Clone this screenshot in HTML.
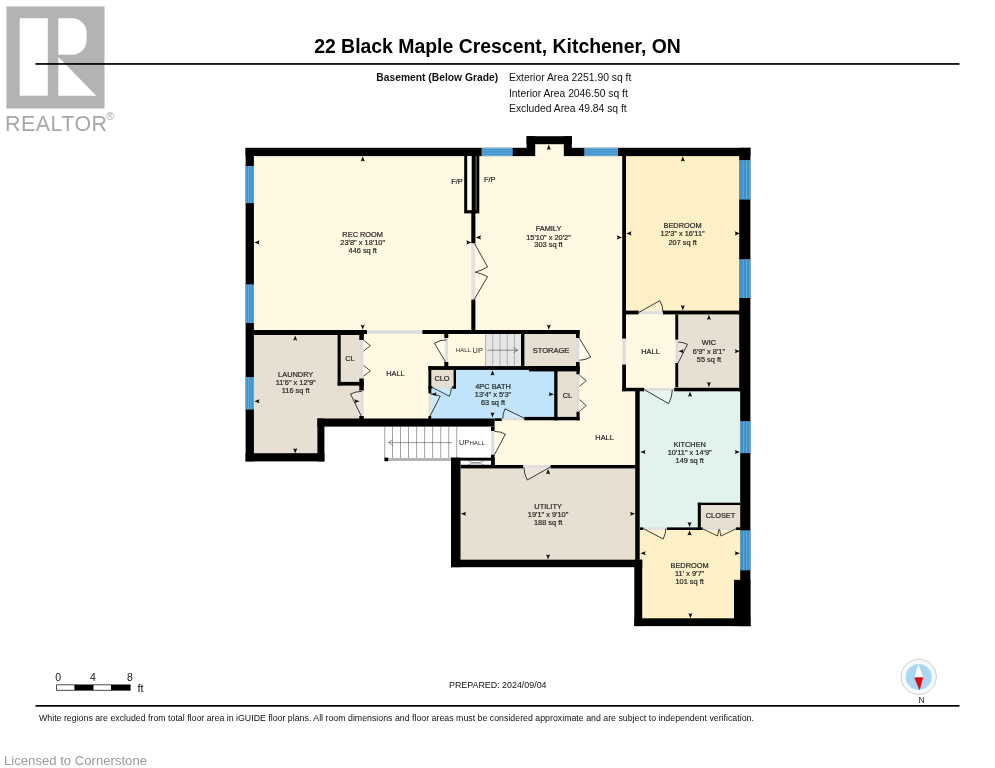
<!DOCTYPE html>
<html lang="en">
<head>
<meta charset="utf-8">
<title>22 Black Maple Crescent, Kitchener, ON - Basement Floor Plan</title>
<style>
html,body{margin:0;padding:0;background:#fff;}
body{width:995px;height:768px;overflow:hidden;position:relative;font-family:"Liberation Sans",Arial,sans-serif;}
svg{position:absolute;left:0;top:0;display:block;will-change:transform;}
svg text{font-family:"Liberation Sans",Arial,sans-serif;}
</style>
</head>
<body>
<svg width="995" height="768" viewBox="0 0 995 768">
<rect x="0" y="0" width="995" height="768" fill="#ffffff"/>

<g id="realtor-logo">
<rect x="6.40" y="6.40" width="98.10" height="102.10" fill="#b3b3b3"/>
<rect x="19.70" y="18.20" width="28.10" height="77.50" fill="#ffffff"/>
<path d="M58.3,18.2 H72 A14.6,14.6 0 0 1 86.6,32.8 V40.1 A14.6,14.6 0 0 1 72,54.7 H58.3 Z" fill="#ffffff"/>
<polygon points="58.30,56.90 96.30,95.70 58.30,95.70" fill="#ffffff"/>
<text x="5.00" y="131.40" font-size="21.4" text-anchor="start" font-weight="normal" fill="#a8a8a8" letter-spacing="0.5">REALTOR</text>
<text x="106.30" y="119.60" font-size="10.5" text-anchor="start" font-weight="normal" fill="#a6a6a6">®</text>
</g>
<rect x="35.50" y="63.10" width="924.00" height="1.70" fill="#000"/>
<text x="497.50" y="53.20" font-size="19.42" text-anchor="middle" font-weight="bold" fill="#000">22 Black Maple Crescent, Kitchener, ON</text>
<text x="498.20" y="81.00" font-size="10.3" text-anchor="end" font-weight="bold" fill="#111">Basement (Below Grade)</text>
<text x="509.00" y="81.00" font-size="10.33" text-anchor="start" font-weight="normal" fill="#111">Exterior Area 2251.90 sq ft</text>
<text x="509.00" y="96.70" font-size="10.33" text-anchor="start" font-weight="normal" fill="#111">Interior Area 2046.50 sq ft</text>
<text x="509.00" y="112.30" font-size="10.33" text-anchor="start" font-weight="normal" fill="#111">Excluded Area 49.84 sq ft</text>
<g id="plan">
<rect x="250.00" y="152.00" width="223.00" height="181.00" fill="#fff8e2"/>
<rect x="473.00" y="152.00" width="151.00" height="315.00" fill="#fff8e2"/>
<rect x="535.00" y="144.00" width="29.00" height="13.00" fill="#fff8e2"/>
<rect x="493.00" y="420.00" width="145.00" height="47.00" fill="#fff8e2"/>
<rect x="622.00" y="389.00" width="16.00" height="78.00" fill="#fff8e2"/>
<rect x="361.00" y="332.00" width="85.00" height="34.00" fill="#fff8e2"/>
<rect x="361.00" y="365.00" width="69.00" height="55.00" fill="#fff8e2"/>
<rect x="446.00" y="332.00" width="40.00" height="35.00" fill="#fff8e2"/>
<rect x="485.20" y="334.00" width="35.80" height="32.50" fill="#e6e6e6"/>
<rect x="523.00" y="332.00" width="55.00" height="35.00" fill="#e8dfd3"/>
<rect x="250.00" y="333.00" width="111.00" height="87.00" fill="#e8dfd3"/>
<rect x="250.00" y="418.00" width="70.00" height="38.00" fill="#e8dfd3"/>
<rect x="429.00" y="368.00" width="127.00" height="51.00" fill="#c1e4fa"/>
<rect x="429.30" y="370.00" width="24.30" height="17.00" fill="#e8dfd3"/>
<rect x="556.00" y="368.00" width="22.00" height="51.00" fill="#e8dfd3"/>
<rect x="624.00" y="152.00" width="121.00" height="160.00" fill="#fdefc6"/>
<rect x="624.00" y="312.00" width="53.00" height="77.00" fill="#fff8e2"/>
<rect x="677.00" y="312.00" width="68.00" height="77.00" fill="#e8dfd3"/>
<rect x="638.00" y="389.00" width="107.00" height="140.00" fill="#e2f3ee"/>
<rect x="699.00" y="503.00" width="46.00" height="26.00" fill="#e8dfd3"/>
<rect x="638.00" y="529.00" width="107.00" height="93.00" fill="#fdefc6"/>
<rect x="456.00" y="466.00" width="182.00" height="97.00" fill="#e8dfd3"/>
<rect x="384.50" y="426.00" width="108.50" height="33.00" fill="#ffffff"/>
<rect x="485.25" y="334.00" width="0.70" height="32.30" fill="#9a9a9a"/>
<rect x="492.45" y="334.00" width="0.70" height="32.30" fill="#9a9a9a"/>
<rect x="499.65" y="334.00" width="0.70" height="32.30" fill="#9a9a9a"/>
<rect x="506.85" y="334.00" width="0.70" height="32.30" fill="#9a9a9a"/>
<rect x="514.05" y="334.00" width="0.70" height="32.30" fill="#9a9a9a"/>
<path d="M487.4,350.2 H517.5 M513.6,347.6 L517.7,350.2 L513.6,352.8" fill="none" stroke="#444" stroke-width="0.6"/>
<rect x="384.40" y="426.70" width="0.80" height="31.30" fill="#8c8c8c"/>
<rect x="392.20" y="426.70" width="0.80" height="31.30" fill="#8c8c8c"/>
<rect x="400.20" y="426.70" width="0.80" height="31.30" fill="#8c8c8c"/>
<rect x="408.20" y="426.70" width="0.80" height="31.30" fill="#8c8c8c"/>
<rect x="416.30" y="426.70" width="0.80" height="31.30" fill="#8c8c8c"/>
<rect x="424.30" y="426.70" width="0.80" height="31.30" fill="#8c8c8c"/>
<rect x="432.30" y="426.70" width="0.80" height="31.30" fill="#8c8c8c"/>
<rect x="440.40" y="426.70" width="0.80" height="31.30" fill="#8c8c8c"/>
<rect x="448.40" y="426.70" width="0.80" height="31.30" fill="#8c8c8c"/>
<rect x="456.40" y="426.70" width="0.80" height="31.30" fill="#8c8c8c"/>
<rect x="388.00" y="458.00" width="63.00" height="3.00" fill="#b5b5b5"/>
<rect x="384.40" y="457.60" width="3.80" height="3.60" fill="#000"/>
<path d="M452,442.6 H388.8 M393,439.6 L388.6,442.6 L393,445.6" fill="none" stroke="#555" stroke-width="0.6"/>
<rect x="245.60" y="147.80" width="289.40" height="8.30" fill="#000"/>
<rect x="564.00" y="147.80" width="186.40" height="8.30" fill="#000"/>
<rect x="526.60" y="136.20" width="45.20" height="8.00" fill="#000"/>
<rect x="526.60" y="136.20" width="8.60" height="19.80" fill="#000"/>
<rect x="563.80" y="136.20" width="8.00" height="19.80" fill="#000"/>
<rect x="245.60" y="148.00" width="8.30" height="313.40" fill="#000"/>
<rect x="245.60" y="453.20" width="78.80" height="8.20" fill="#000"/>
<rect x="317.40" y="418.50" width="7.00" height="42.90" fill="#000"/>
<rect x="317.40" y="418.50" width="177.20" height="8.10" fill="#000"/>
<rect x="451.00" y="457.70" width="43.60" height="3.00" fill="#000"/>
<rect x="451.00" y="457.70" width="9.50" height="109.50" fill="#000"/>
<rect x="451.00" y="559.70" width="191.20" height="7.50" fill="#000"/>
<rect x="634.30" y="559.70" width="7.90" height="66.40" fill="#000"/>
<rect x="634.30" y="618.30" width="116.10" height="7.80" fill="#000"/>
<rect x="739.20" y="147.80" width="11.20" height="243.50" fill="#000"/>
<rect x="740.20" y="391.00" width="10.20" height="235.10" fill="#000"/>
<rect x="734.00" y="579.80" width="16.40" height="46.30" fill="#000"/>
<rect x="451.00" y="460.70" width="43.60" height="4.30" fill="#000"/>
<rect x="460.50" y="460.80" width="30.50" height="4.00" fill="#ffffff"/>
<path d="M468,461 Q476,464.6 484,461 M468,464.7 Q476,461.2 484,464.7" stroke="#444" stroke-width="0.5" fill="none"/>
<rect x="471.30" y="156.00" width="4.10" height="87.50" fill="#000"/>
<rect x="471.20" y="243.50" width="4.00" height="56.10" fill="#e3e3e0"/>
<rect x="471.30" y="299.60" width="4.10" height="32.40" fill="#000"/>
<path d="M474.6,243.6 L487.6,267 Q481,270.6 475.4,272.2 Q481,273.4 487.6,276.6 L474,299.8" fill="none" stroke="#000" stroke-width="0.75"/>
<rect x="464.20" y="156.00" width="15.10" height="57.40" fill="#000"/>
<rect x="467.20" y="156.00" width="4.50" height="54.20" fill="#fffdf6"/>
<rect x="475.60" y="156.00" width="1.00" height="54.20" fill="#7d7668"/>
<rect x="253.00" y="330.00" width="110.80" height="5.00" fill="#000"/>
<rect x="363.80" y="330.00" width="3.20" height="4.00" fill="#000"/>
<rect x="367.00" y="330.20" width="55.40" height="3.60" fill="#dcdcdc"/>
<rect x="422.40" y="330.00" width="157.20" height="4.00" fill="#000"/>
<rect x="337.60" y="335.00" width="3.10" height="50.60" fill="#000"/>
<rect x="337.70" y="381.90" width="26.10" height="3.70" fill="#000"/>
<rect x="359.30" y="330.00" width="4.50" height="10.00" fill="#000"/>
<rect x="359.60" y="340.00" width="3.80" height="38.50" fill="#dcdcdc"/>
<rect x="359.30" y="378.50" width="4.50" height="12.20" fill="#000"/>
<rect x="359.60" y="390.70" width="3.80" height="25.60" fill="#dcdcdc"/>
<rect x="359.30" y="416.00" width="4.50" height="3.00" fill="#000"/>
<polyline points="363.60,340.20 370.40,345.60 363.60,351.00" fill="none" stroke="#000" stroke-width="0.7" stroke-linejoin="miter"/>
<polyline points="363.60,365.40 370.40,370.80 363.60,376.20" fill="none" stroke="#000" stroke-width="0.7" stroke-linejoin="miter"/>
<path d="M361.80,417.20 L350.50,394.00 Q355.85,391.41 361.80,391.39" fill="rgba(255,255,255,0.18)" stroke="#000" stroke-width="0.75"/>
<rect x="444.30" y="334.00" width="4.00" height="4.00" fill="#000"/>
<rect x="444.60" y="338.00" width="3.40" height="24.00" fill="#dcdcdc"/>
<rect x="444.30" y="362.00" width="4.00" height="5.00" fill="#000"/>
<path d="M446.50,363.60 L434.40,343.20 Q440.00,339.91 446.50,339.88" fill="rgba(255,255,255,0.18)" stroke="#000" stroke-width="0.75"/>
<rect x="428.40" y="366.10" width="151.20" height="3.80" fill="#000"/>
<rect x="529.00" y="366.10" width="50.60" height="5.30" fill="#000"/>
<rect x="428.40" y="366.10" width="2.90" height="27.30" fill="#000"/>
<rect x="428.60" y="393.40" width="2.40" height="23.10" fill="#dcdcdc"/>
<rect x="428.40" y="416.00" width="2.80" height="3.00" fill="#000"/>
<path d="M429.80,416.50 L440.20,396.30 Q435.30,393.80 429.80,393.78" fill="rgba(255,255,255,0.18)" stroke="#000" stroke-width="0.75"/>
<rect x="453.60" y="370.00" width="2.40" height="18.50" fill="#000"/>
<rect x="431.00" y="386.20" width="22.60" height="2.20" fill="#dcdcdc"/>
<rect x="428.40" y="386.20" width="4.10" height="2.40" fill="#000"/>
<rect x="452.20" y="386.20" width="3.80" height="2.40" fill="#000"/>
<path d="M432.60,387.60 L449.30,396.20 Q451.37,392.15 451.38,387.60" fill="rgba(255,255,255,0.18)" stroke="#000" stroke-width="0.7"/>
<rect x="521.00" y="334.00" width="3.40" height="32.50" fill="#000"/>
<rect x="576.00" y="330.00" width="3.60" height="8.00" fill="#000"/>
<rect x="576.30" y="338.00" width="3.00" height="24.00" fill="#dcdcdc"/>
<rect x="576.00" y="362.00" width="3.60" height="8.00" fill="#000"/>
<path d="M579.40,338.30 L590.70,357.10 Q585.48,360.21 579.40,360.23" fill="rgba(255,255,255,0.18)" stroke="#000" stroke-width="0.75"/>
<rect x="576.50" y="370.00" width="3.10" height="4.50" fill="#000"/>
<rect x="576.80" y="374.50" width="2.50" height="37.20" fill="#dcdcdc"/>
<rect x="576.50" y="411.70" width="3.10" height="8.60" fill="#000"/>
<polyline points="579.40,375.20 586.30,380.70 579.40,386.30" fill="none" stroke="#000" stroke-width="0.7" stroke-linejoin="miter"/>
<polyline points="579.40,399.70 586.30,405.50 579.40,411.30" fill="none" stroke="#000" stroke-width="0.7" stroke-linejoin="miter"/>
<rect x="554.20" y="370.00" width="3.30" height="50.30" fill="#000"/>
<rect x="494.60" y="418.30" width="7.20" height="2.70" fill="#000"/>
<rect x="501.80" y="417.60" width="22.50" height="2.60" fill="#dcdcdc"/>
<rect x="524.30" y="416.90" width="55.30" height="3.40" fill="#000"/>
<path d="M525.10,418.60 L505.00,408.80 Q502.75,413.44 502.74,418.60" fill="rgba(255,255,255,0.18)" stroke="#000" stroke-width="0.75"/>
<rect x="491.00" y="426.70" width="3.60" height="4.30" fill="#000"/>
<rect x="491.20" y="431.00" width="3.20" height="23.70" fill="#dcdcdc"/>
<rect x="491.00" y="454.70" width="3.60" height="10.30" fill="#000"/>
<path d="M494.50,454.70 L505.40,434.10 Q500.28,431.41 494.50,431.39" fill="rgba(255,255,255,0.18)" stroke="#000" stroke-width="0.75"/>
<rect x="622.20" y="156.00" width="3.80" height="182.70" fill="#000"/>
<rect x="622.50" y="338.70" width="3.20" height="25.90" fill="#dcdcdc"/>
<rect x="622.20" y="364.60" width="3.80" height="26.60" fill="#000"/>
<rect x="626.00" y="310.60" width="12.80" height="3.80" fill="#000"/>
<rect x="638.80" y="310.90" width="24.20" height="3.20" fill="#dcdcdc"/>
<rect x="663.00" y="310.60" width="77.20" height="3.80" fill="#000"/>
<path d="M639.00,312.40 L659.90,300.60 Q662.98,306.10 663.00,312.40" fill="rgba(255,255,255,0.18)" stroke="#000" stroke-width="0.75"/>
<rect x="675.30" y="314.40" width="2.90" height="25.40" fill="#000"/>
<rect x="675.50" y="339.80" width="2.50" height="23.20" fill="#dcdcdc"/>
<rect x="675.30" y="363.00" width="2.90" height="24.40" fill="#000"/>
<path d="M678.10,363.00 L687.50,344.30 Q683.06,342.09 678.10,342.07" fill="rgba(255,255,255,0.18)" stroke="#000" stroke-width="0.75"/>
<rect x="622.20" y="387.80" width="22.10" height="3.50" fill="#000"/>
<rect x="644.30" y="388.10" width="29.90" height="2.90" fill="#dcdcdc"/>
<rect x="674.20" y="387.80" width="66.00" height="3.50" fill="#000"/>
<path d="M644.30,389.60 L668.60,403.60 Q672.31,397.09 672.34,389.60" fill="rgba(255,255,255,0.18)" stroke="#000" stroke-width="0.75"/>
<rect x="635.20" y="391.00" width="4.50" height="168.80" fill="#000"/>
<rect x="640.00" y="527.40" width="3.40" height="2.60" fill="#000"/>
<rect x="643.40" y="527.60" width="23.50" height="2.20" fill="#dcdcdc"/>
<rect x="666.90" y="527.40" width="35.80" height="2.60" fill="#000"/>
<rect x="702.70" y="527.60" width="33.30" height="2.20" fill="#dcdcdc"/>
<rect x="736.00" y="527.40" width="4.20" height="2.60" fill="#000"/>
<path d="M643.40,528.60 L663.20,539.00 Q665.75,534.11 665.77,528.60" fill="rgba(255,255,255,0.18)" stroke="#000" stroke-width="0.75"/>
<polyline points="702.70,528.80 717.60,536.00 718.80,529.30" fill="none" stroke="#000" stroke-width="0.7" stroke-linejoin="miter"/>
<polyline points="736.10,528.80 720.80,536.00 719.60,529.30" fill="none" stroke="#000" stroke-width="0.7" stroke-linejoin="miter"/>
<rect x="697.80" y="502.70" width="3.00" height="27.30" fill="#000"/>
<rect x="697.80" y="502.70" width="42.40" height="2.30" fill="#000"/>
<rect x="460.50" y="465.00" width="62.50" height="3.40" fill="#000"/>
<rect x="523.00" y="465.30" width="27.50" height="2.80" fill="#dcdcdc"/>
<rect x="550.50" y="465.00" width="85.50" height="3.40" fill="#000"/>
<path d="M550.50,466.90 L527.30,480.00 Q523.89,473.89 523.86,466.90" fill="rgba(255,255,255,0.18)" stroke="#000" stroke-width="0.75"/>
<rect x="245.60" y="166.00" width="8.30" height="37.10" fill="#70b6e3"/>
<rect x="246.50" y="166.00" width="1.67" height="37.10" fill="#3b90cc"/>
<rect x="248.92" y="166.00" width="1.67" height="37.10" fill="#3b90cc"/>
<rect x="251.33" y="166.00" width="1.67" height="37.10" fill="#3b90cc"/>
<rect x="245.60" y="284.50" width="8.30" height="38.50" fill="#70b6e3"/>
<rect x="246.50" y="284.50" width="1.67" height="38.50" fill="#3b90cc"/>
<rect x="248.92" y="284.50" width="1.67" height="38.50" fill="#3b90cc"/>
<rect x="251.33" y="284.50" width="1.67" height="38.50" fill="#3b90cc"/>
<rect x="245.60" y="377.20" width="8.30" height="32.20" fill="#70b6e3"/>
<rect x="246.50" y="377.20" width="1.67" height="32.20" fill="#3b90cc"/>
<rect x="248.92" y="377.20" width="1.67" height="32.20" fill="#3b90cc"/>
<rect x="251.33" y="377.20" width="1.67" height="32.20" fill="#3b90cc"/>
<rect x="481.70" y="148.00" width="30.80" height="8.00" fill="#70b6e3"/>
<rect x="481.70" y="148.90" width="30.80" height="1.57" fill="#3b90cc"/>
<rect x="481.70" y="151.22" width="30.80" height="1.57" fill="#3b90cc"/>
<rect x="481.70" y="153.53" width="30.80" height="1.57" fill="#3b90cc"/>
<rect x="584.40" y="148.00" width="33.60" height="8.00" fill="#70b6e3"/>
<rect x="584.40" y="148.90" width="33.60" height="1.57" fill="#3b90cc"/>
<rect x="584.40" y="151.22" width="33.60" height="1.57" fill="#3b90cc"/>
<rect x="584.40" y="153.53" width="33.60" height="1.57" fill="#3b90cc"/>
<rect x="739.20" y="160.20" width="11.20" height="39.20" fill="#70b6e3"/>
<rect x="740.10" y="160.20" width="2.63" height="39.20" fill="#3b90cc"/>
<rect x="743.48" y="160.20" width="2.63" height="39.20" fill="#3b90cc"/>
<rect x="746.87" y="160.20" width="2.63" height="39.20" fill="#3b90cc"/>
<rect x="739.20" y="259.40" width="11.20" height="38.60" fill="#70b6e3"/>
<rect x="740.10" y="259.40" width="2.63" height="38.60" fill="#3b90cc"/>
<rect x="743.48" y="259.40" width="2.63" height="38.60" fill="#3b90cc"/>
<rect x="746.87" y="259.40" width="2.63" height="38.60" fill="#3b90cc"/>
<rect x="740.20" y="421.30" width="10.20" height="31.80" fill="#70b6e3"/>
<rect x="741.10" y="421.30" width="2.30" height="31.80" fill="#3b90cc"/>
<rect x="744.15" y="421.30" width="2.30" height="31.80" fill="#3b90cc"/>
<rect x="747.20" y="421.30" width="2.30" height="31.80" fill="#3b90cc"/>
<rect x="740.20" y="530.50" width="10.20" height="39.70" fill="#70b6e3"/>
<rect x="741.10" y="530.50" width="2.30" height="39.70" fill="#3b90cc"/>
<rect x="744.15" y="530.50" width="2.30" height="39.70" fill="#3b90cc"/>
<rect x="747.20" y="530.50" width="2.30" height="39.70" fill="#3b90cc"/>
<polygon points="362.70,156.30 360.65,161.60 362.70,160.70 364.75,161.60" fill="#111"/>
<polygon points="362.70,329.80 360.65,324.50 362.70,325.40 364.75,324.50" fill="#111"/>
<polygon points="254.30,242.40 259.60,240.35 258.70,242.40 259.60,244.45" fill="#111"/>
<polygon points="471.50,242.40 466.20,240.35 467.10,242.40 466.20,244.45" fill="#111"/>
<polygon points="548.80,144.60 546.75,149.90 548.80,149.00 550.85,149.90" fill="#111"/>
<polygon points="548.80,329.80 546.75,324.50 548.80,325.40 550.85,324.50" fill="#111"/>
<polygon points="475.80,237.40 481.10,235.35 480.20,237.40 481.10,239.45" fill="#111"/>
<polygon points="622.00,237.40 616.70,235.35 617.60,237.40 616.70,239.45" fill="#111"/>
<polygon points="682.80,156.30 680.75,161.60 682.80,160.70 684.85,161.60" fill="#111"/>
<polygon points="682.80,310.40 680.75,305.10 682.80,306.00 684.85,305.10" fill="#111"/>
<polygon points="626.30,233.40 631.60,231.35 630.70,233.40 631.60,235.45" fill="#111"/>
<polygon points="740.00,233.40 734.70,231.35 735.60,233.40 734.70,235.45" fill="#111"/>
<polygon points="708.90,314.70 706.85,320.00 708.90,319.10 710.95,320.00" fill="#111"/>
<polygon points="708.90,387.20 706.85,381.90 708.90,382.80 710.95,381.90" fill="#111"/>
<polygon points="678.50,351.30 683.80,349.25 682.90,351.30 683.80,353.35" fill="#111"/>
<polygon points="740.00,351.30 734.70,349.25 735.60,351.30 734.70,353.35" fill="#111"/>
<polygon points="690.00,391.50 687.95,396.80 690.00,395.90 692.05,396.80" fill="#111"/>
<polygon points="689.60,527.20 687.55,521.90 689.60,522.80 691.65,521.90" fill="#111"/>
<polygon points="640.30,452.00 645.60,449.95 644.70,452.00 645.60,454.05" fill="#111"/>
<polygon points="740.00,452.00 734.70,449.95 735.60,452.00 734.70,454.05" fill="#111"/>
<polygon points="689.60,530.30 687.55,535.60 689.60,534.70 691.65,535.60" fill="#111"/>
<polygon points="690.40,618.30 688.35,613.00 690.40,613.90 692.45,613.00" fill="#111"/>
<polygon points="640.40,553.20 645.70,551.15 644.80,553.20 645.70,555.25" fill="#111"/>
<polygon points="740.00,553.20 734.70,551.15 735.60,553.20 734.70,555.25" fill="#111"/>
<polygon points="548.10,469.00 546.05,474.30 548.10,473.40 550.15,474.30" fill="#111"/>
<polygon points="548.10,559.60 546.05,554.30 548.10,555.20 550.15,554.30" fill="#111"/>
<polygon points="460.80,513.70 466.10,511.65 465.20,513.70 466.10,515.75" fill="#111"/>
<polygon points="635.30,513.70 630.00,511.65 630.90,513.70 630.00,515.75" fill="#111"/>
<polygon points="295.20,335.40 293.15,340.70 295.20,339.80 297.25,340.70" fill="#111"/>
<polygon points="295.20,453.50 293.15,448.20 295.20,449.10 297.25,448.20" fill="#111"/>
<polygon points="254.30,401.20 259.60,399.15 258.70,401.20 259.60,403.25" fill="#111"/>
<polygon points="359.60,401.20 354.30,399.15 355.20,401.20 354.30,403.25" fill="#111"/>
<polygon points="492.50,370.30 490.45,375.60 492.50,374.70 494.55,375.60" fill="#111"/>
<polygon points="492.50,417.50 490.45,412.20 492.50,413.10 494.55,412.20" fill="#111"/>
<polygon points="431.30,394.20 436.60,392.15 435.70,394.20 436.60,396.25" fill="#111"/>
<polygon points="554.00,394.20 548.70,392.15 549.60,394.20 548.70,396.25" fill="#111"/>
<text x="362.70" y="236.86" font-size="7.4" text-anchor="middle" font-weight="normal" fill="#2b2b2b" stroke="#2b2b2b" stroke-width="0.22">REC ROOM</text>
<text x="362.70" y="245.06" font-size="7.4" text-anchor="middle" font-weight="normal" fill="#2b2b2b" stroke="#2b2b2b" stroke-width="0.22">23'8" x 18'10"</text>
<text x="362.70" y="253.16" font-size="7.4" text-anchor="middle" font-weight="normal" fill="#2b2b2b" stroke="#2b2b2b" stroke-width="0.22">446 sq ft</text>
<text x="548.50" y="231.26" font-size="7.4" text-anchor="middle" font-weight="normal" fill="#2b2b2b" stroke="#2b2b2b" stroke-width="0.22">FAMILY</text>
<text x="548.50" y="239.56" font-size="7.4" text-anchor="middle" font-weight="normal" fill="#2b2b2b" stroke="#2b2b2b" stroke-width="0.22">15'10" x 20'2"</text>
<text x="548.50" y="247.46" font-size="7.4" text-anchor="middle" font-weight="normal" fill="#2b2b2b" stroke="#2b2b2b" stroke-width="0.22">303 sq ft</text>
<text x="682.60" y="227.76" font-size="7.4" text-anchor="middle" font-weight="normal" fill="#2b2b2b" stroke="#2b2b2b" stroke-width="0.22">BEDROOM</text>
<text x="682.60" y="236.16" font-size="7.4" text-anchor="middle" font-weight="normal" fill="#2b2b2b" stroke="#2b2b2b" stroke-width="0.22">12'3" x 16'11"</text>
<text x="682.60" y="244.66" font-size="7.4" text-anchor="middle" font-weight="normal" fill="#2b2b2b" stroke="#2b2b2b" stroke-width="0.22">207 sq ft</text>
<text x="457.00" y="184.06" font-size="7.4" text-anchor="middle" font-weight="normal" fill="#2b2b2b" stroke="#2b2b2b" stroke-width="0.22">F/P</text>
<text x="489.80" y="182.46" font-size="7.4" text-anchor="middle" font-weight="normal" fill="#2b2b2b" stroke="#2b2b2b" stroke-width="0.22">F/P</text>
<text x="295.70" y="377.26" font-size="7.4" text-anchor="middle" font-weight="normal" fill="#2b2b2b" stroke="#2b2b2b" stroke-width="0.22">LAUNDRY</text>
<text x="295.70" y="385.06" font-size="7.4" text-anchor="middle" font-weight="normal" fill="#2b2b2b" stroke="#2b2b2b" stroke-width="0.22">11'6" x 12'9"</text>
<text x="295.70" y="393.36" font-size="7.4" text-anchor="middle" font-weight="normal" fill="#2b2b2b" stroke="#2b2b2b" stroke-width="0.22">116 sq ft</text>
<text x="350.00" y="360.86" font-size="7.4" text-anchor="middle" font-weight="normal" fill="#2b2b2b" stroke="#2b2b2b" stroke-width="0.22">CL</text>
<text x="395.40" y="376.36" font-size="7.4" text-anchor="middle" font-weight="normal" fill="#2b2b2b" stroke="#2b2b2b" stroke-width="0.22">HALL</text>
<text x="442.00" y="380.76" font-size="7.4" text-anchor="middle" font-weight="normal" fill="#2b2b2b" stroke="#2b2b2b" stroke-width="0.22">CLO</text>
<text x="455.80" y="352.20" font-size="6.0" text-anchor="start" font-weight="normal" fill="#2b2b2b">HALL</text>
<text x="472.60" y="352.90" font-size="7.4" text-anchor="start" font-weight="normal" fill="#2b2b2b">UP</text>
<text x="551.00" y="353.00" font-size="7.5" text-anchor="middle" font-weight="normal" fill="#2b2b2b" stroke="#2b2b2b" stroke-width="0.22">STORAGE</text>
<text x="493.00" y="388.96" font-size="7.4" text-anchor="middle" font-weight="normal" fill="#2b2b2b" stroke="#2b2b2b" stroke-width="0.22">4PC BATH</text>
<text x="493.00" y="396.86" font-size="7.4" text-anchor="middle" font-weight="normal" fill="#2b2b2b" stroke="#2b2b2b" stroke-width="0.22">13'4" x 5'3"</text>
<text x="493.00" y="404.56" font-size="7.4" text-anchor="middle" font-weight="normal" fill="#2b2b2b" stroke="#2b2b2b" stroke-width="0.22">63 sq ft</text>
<text x="567.50" y="397.76" font-size="7.4" text-anchor="middle" font-weight="normal" fill="#2b2b2b" stroke="#2b2b2b" stroke-width="0.22">CL</text>
<text x="604.60" y="439.76" font-size="7.4" text-anchor="middle" font-weight="normal" fill="#2b2b2b" stroke="#2b2b2b" stroke-width="0.22">HALL</text>
<text x="458.90" y="445.30" font-size="7.4" text-anchor="start" font-weight="normal" fill="#2b2b2b">UP</text>
<text x="469.40" y="444.80" font-size="6.2" text-anchor="start" font-weight="normal" fill="#2b2b2b">HALL</text>
<text x="548.10" y="508.66" font-size="7.4" text-anchor="middle" font-weight="normal" fill="#2b2b2b" stroke="#2b2b2b" stroke-width="0.22">UTILITY</text>
<text x="548.10" y="516.76" font-size="7.4" text-anchor="middle" font-weight="normal" fill="#2b2b2b" stroke="#2b2b2b" stroke-width="0.22">19'1" x 9'10"</text>
<text x="548.10" y="525.16" font-size="7.4" text-anchor="middle" font-weight="normal" fill="#2b2b2b" stroke="#2b2b2b" stroke-width="0.22">188 sq ft</text>
<text x="650.50" y="353.96" font-size="7.4" text-anchor="middle" font-weight="normal" fill="#2b2b2b" stroke="#2b2b2b" stroke-width="0.22">HALL</text>
<text x="708.90" y="344.86" font-size="7.4" text-anchor="middle" font-weight="normal" fill="#2b2b2b" stroke="#2b2b2b" stroke-width="0.22">WIC</text>
<text x="708.90" y="353.96" font-size="7.4" text-anchor="middle" font-weight="normal" fill="#2b2b2b" stroke="#2b2b2b" stroke-width="0.22">6'9" x 8'1"</text>
<text x="708.90" y="362.06" font-size="7.4" text-anchor="middle" font-weight="normal" fill="#2b2b2b" stroke="#2b2b2b" stroke-width="0.22">55 sq ft</text>
<text x="689.70" y="446.56" font-size="7.4" text-anchor="middle" font-weight="normal" fill="#2b2b2b" stroke="#2b2b2b" stroke-width="0.22">KITCHEN</text>
<text x="689.70" y="454.66" font-size="7.4" text-anchor="middle" font-weight="normal" fill="#2b2b2b" stroke="#2b2b2b" stroke-width="0.22">10'11" x 14'9"</text>
<text x="689.70" y="462.56" font-size="7.4" text-anchor="middle" font-weight="normal" fill="#2b2b2b" stroke="#2b2b2b" stroke-width="0.22">149 sq ft</text>
<text x="720.50" y="518.26" font-size="7.4" text-anchor="middle" font-weight="normal" fill="#2b2b2b" stroke="#2b2b2b" stroke-width="0.22">CLOSET</text>
<text x="689.60" y="568.16" font-size="7.4" text-anchor="middle" font-weight="normal" fill="#2b2b2b" stroke="#2b2b2b" stroke-width="0.22">BEDROOM</text>
<text x="689.60" y="575.66" font-size="7.4" text-anchor="middle" font-weight="normal" fill="#2b2b2b" stroke="#2b2b2b" stroke-width="0.22">11' x 9'7"</text>
<text x="689.60" y="584.26" font-size="7.4" text-anchor="middle" font-weight="normal" fill="#2b2b2b" stroke="#2b2b2b" stroke-width="0.22">101 sq ft</text>
</g>
<g id="scale">
<rect x="56.30" y="684.50" width="74.30" height="6.10" fill="#000"/>
<rect x="57.00" y="685.20" width="17.40" height="4.70" fill="#fff"/>
<rect x="93.50" y="685.20" width="17.50" height="4.70" fill="#fff"/>
<text x="58.20" y="681.00" font-size="10.5" text-anchor="middle" font-weight="normal" fill="#111">0</text>
<text x="92.80" y="681.00" font-size="10.5" text-anchor="middle" font-weight="normal" fill="#111">4</text>
<text x="130.00" y="681.00" font-size="10.5" text-anchor="middle" font-weight="normal" fill="#111">8</text>
<text x="137.50" y="691.60" font-size="11" text-anchor="start" font-weight="normal" fill="#111">ft</text>
</g>
<text x="449.00" y="687.90" font-size="8.88" text-anchor="start" font-weight="normal" fill="#111">PREPARED: 2024/09/04</text>
<g id="compass">
<circle cx="918.7" cy="676.9" r="17.6" fill="#f4fbff" stroke="#cbbdb6" stroke-width="0.8"/>
<circle cx="918.7" cy="676.9" r="13" fill="#a9d7f4"/>
<polygon points="918.40,663.80 914.40,677.40 922.90,677.20" fill="#ffffff"/>
<polygon points="914.20,677.40 923.10,677.20 919.60,690.20" fill="#e30613"/>
<text x="921.40" y="703.00" font-size="8.3" text-anchor="middle" font-weight="normal" fill="#111">N</text>
</g>
<rect x="35.50" y="705.00" width="924.00" height="1.70" fill="#000"/>
<text x="39.00" y="720.90" font-size="8.81" text-anchor="start" font-weight="normal" fill="#111">White regions are excluded from total floor area in iGUIDE floor plans. All room dimensions and floor areas must be considered approximate and are subject to independent verification.</text>
<text x="4.00" y="765.20" font-size="13.13" text-anchor="start" font-weight="normal" fill="#9b9b9b">Licensed to Cornerstone</text>
</svg>
</body>
</html>
